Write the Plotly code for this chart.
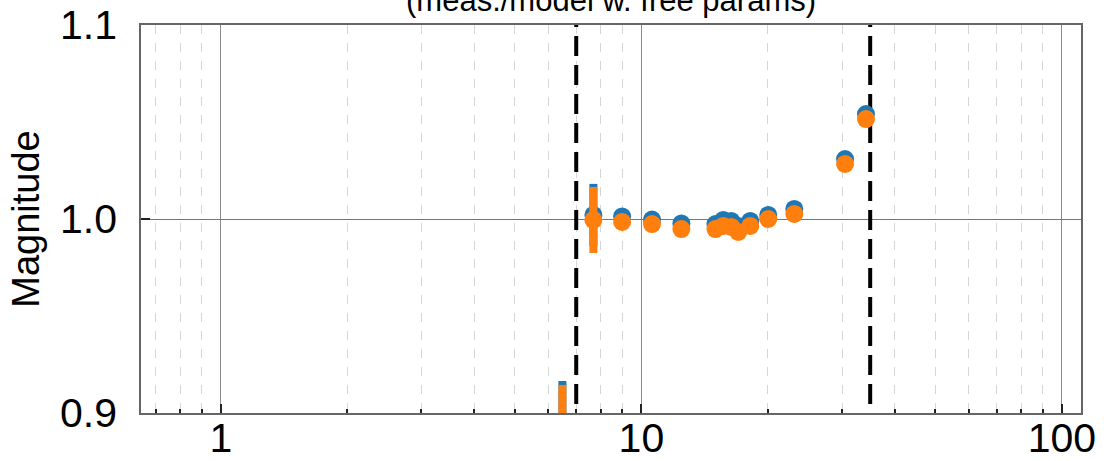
import math
import plotly.graph_objects as go

# Frequencies (Hz) of the measurement points
freq = [6.49, 7.69, 9.0, 10.6, 12.45, 15.0, 15.66, 16.36, 17.0, 18.15, 20.03, 23.1, 30.5, 34.2]

# Residual magnitude (meas./model), two fits
mag_a = [0.885, 1.0021, 1.0013, 0.9997, 0.9977, 0.9974, 0.9995, 0.999, 0.9964, 0.999, 1.0021, 1.0052, 1.0309, 1.0541]
err_a = [0.0315, 0.016, 0.002, 0.002, 0.002, 0.002, 0.002, 0.002, 0.002, 0.002, 0.002, 0.002, 0.002, 0.002]
mag_b = [0.883, 0.9995, 0.9985, 0.9974, 0.9948, 0.9948, 0.9964, 0.9959, 0.9933, 0.9964, 1.0, 1.0026, 1.0284, 1.0515]
err_b = [0.0314, 0.017, 0.002, 0.002, 0.002, 0.002, 0.002, 0.002, 0.002, 0.002, 0.002, 0.002, 0.002, 0.002]

# Fit band limits (Hz)
band_edges = [7.0, 35.0]

x_range = [0.646, 111.0]
y_range = [0.9, 1.1]
y_ticks = [0.9, 1.0, 1.1]
x_ticks = [1, 10, 100]
x_minor = [0.7, 0.8, 0.9, 2, 3, 4, 5, 6, 7, 8, 9, 20, 30, 40, 50, 60, 70, 80, 90]

FONT = "Liberation Sans"
BLUE = "#1f77b4"
ORANGE = "#ff7f0e"

fig = go.Figure()

for f in band_edges:
    fig.add_trace(go.Scatter(
        x=[f, f], y=[0.8, 1.2], mode="lines",
        line=dict(color="black", width=4, dash="20px,9px"),
        showlegend=False, hoverinfo="skip"))

for mag, err, col in [(mag_a, err_a, BLUE), (mag_b, err_b, ORANGE)]:
    fig.add_trace(go.Scatter(
        x=freq, y=mag, mode="markers",
        marker=dict(color=col, size=18, line=dict(width=0)),
        error_y=dict(type="data", array=err, color=col, thickness=8, width=0),
        showlegend=False))

fig.update_layout(
    width=1104, height=461,
    margin=dict(l=141, r=23, t=25, b=48, autoexpand=False),
    plot_bgcolor="white", paper_bgcolor="white",
    font=dict(family=FONT, color="black"),
    xaxis=dict(
        type="log", range=[math.log10(x_range[0]), math.log10(x_range[1])],
        tickvals=x_ticks, ticktext=[str(v) for v in x_ticks],
        tickfont=dict(size=41), automargin=False,
        ticks="inside", ticklen=9, tickwidth=2, tickcolor="#222",
        ticklabelstandoff=-12,
        showgrid=True, gridcolor="#8a8a8a", gridwidth=1,
        showline=True, linecolor="#666", linewidth=1.5, mirror=True,
        zeroline=False,
        minor=dict(tickvals=x_minor, ticks="inside", ticklen=4, tickwidth=2,
                   tickcolor="#222", showgrid=True, gridcolor="#d6d6d6",
                   griddash="dash", gridwidth=1),
    ),
    yaxis=dict(
        range=y_range, tickvals=y_ticks, tickformat=".1f",
        tickfont=dict(size=41), automargin=False,
        ticks="inside", ticklen=9, tickwidth=2, tickcolor="#222",
        ticklabelstandoff=14,
        showgrid=True, gridcolor="#777", gridwidth=1,
        showline=True, linecolor="#666", linewidth=1.5, mirror=True,
        zeroline=False,
        title=dict(text="Magnitude", font=dict(size=38), standoff=9),
    ),
    annotations=[dict(
        text="(meas./model w. free params)", xref="paper", yref="paper",
        x=0.5, y=1.062, xanchor="center", yanchor="middle", showarrow=False,
        font=dict(size=31, family=FONT))],
)

fig.write_html("out.html")
